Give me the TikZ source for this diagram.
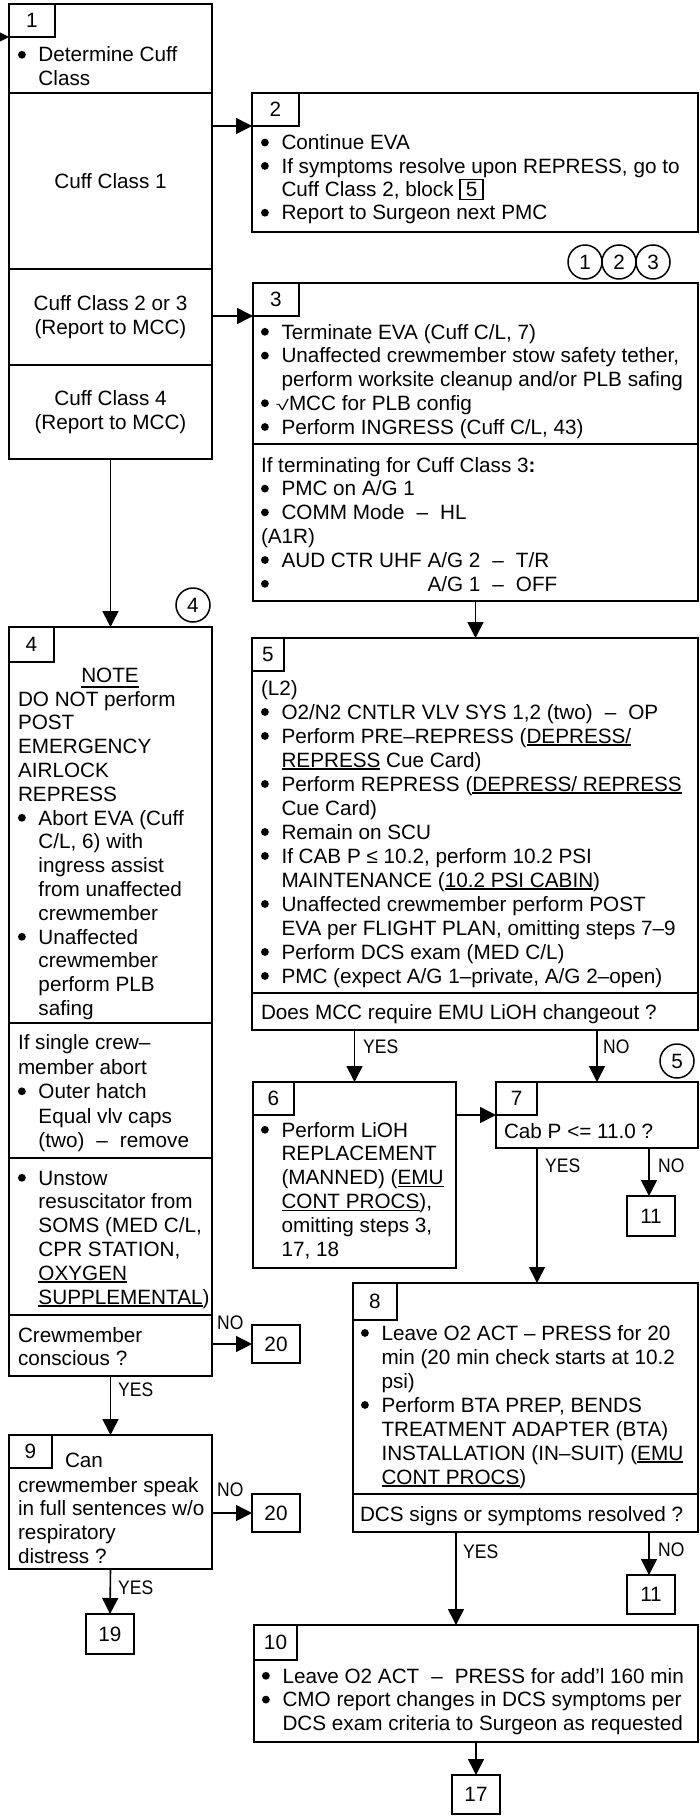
\documentclass[tikz,border=0pt]{standalone}
\usepackage{fontspec}
\setmainfont{Liberation Sans}
\usetikzlibrary{arrows.meta}
\newcommand\bodyfont{\fontsize{20.7}{23.8}\selectfont}
\newcommand\lblfont{\fontsize{17.5}{17.5}\selectfont}
\newcommand\bdot{\tikz[baseline=-7.2pt]\fill[black] (3.9pt,0pt) circle[radius=3.9pt];}
\newcommand\bul{\makebox[20.5pt][l]{\bdot}}
\newcommand\ind{\hspace*{20.5pt}}
\newcommand\dsh{\hspace{12pt}–\hspace{12pt}}
\newcommand\uln[2][-2.5pt]{\leavevmode\setbox0\hbox{#2}\rlap{\rule[#1]{\wd0}{1.4pt}}\box0\relax}
\newcommand\blk[1]{{\setlength\fboxsep{2pt}\setlength\fboxrule{1.6pt}\fbox{\makebox[17pt]{#1}}}}
\newcommand\chk{\makebox[12pt][l]{\bdot}\makebox[16pt][r]{\scalebox{1.7}[1]{\fontsize{14}{14}\selectfont √}}}
\newcommand\lbl[1]{\scalebox{1}[1.12]{#1}}
\newcommand\BX[6][]{\node[box,#1,minimum width={#5-#3},minimum height={#6-#4}] (#2) at (#3,#4)}
\newcommand\TX[4][]{\node[txt,#1] (#2) at (#3,#4-16.66)}
\begin{document}
\begin{tikzpicture}[x=1pt,y=-1pt,
  box/.style={draw,line width=2pt,inner sep=0pt,outer sep=0pt,anchor=north west,font=\bodyfont},
  txt/.style={anchor=north west,inner sep=0pt,outer sep=0pt,align=left,font=\bodyfont},
  lab/.style={anchor=west,inner sep=0pt,font=\lblfont},
  circ/.style={draw,circle,line width=1.5pt,minimum size=34pt,inner sep=0pt,font=\bodyfont},
  arr/.style={line width=1.6pt,-{Triangle[length=16pt,width=16pt]}}]
\useasboundingbox (0,0) rectangle (699,1817);
\fill[white] (0,0) rectangle (699,1817);
% ---------------- left column ----------------
\BX{b1}{9}{4}{212}{93}{};
\BX{t1}{9}{4}{55}{37}{1};
\TX{x1}{18}{62}{\strut\bul Determine Cuff\\\ind Class};
\BX{c1}{9}{93}{212}{269}{Cuff Class 1};
\BX[align=center]{c23}{9}{269}{212}{365}{Cuff Class 2 or 3\\(Report to MCC)};
\BX[align=center]{c4}{9}{365}{212}{459}{Cuff Class 4\\(Report to MCC)};
\coordinate (in1) at (-14,37);
\draw[arr] (in1) -- (t1.south west);
\node[circ] (k4) at (193,605) {4};
\BX{b4}{9}{627}{212}{1023}{};
\BX{t4}{9}{627}{54}{662}{4};
\draw[arr] (c4.south) -- (b4.north);
\node[anchor=base,inner sep=0pt,font=\bodyfont] (note) at (110,682) {\uln[-5.5pt]{NOTE}};
\TX{x4}{18}{706}{\strut DO NOT perform\\POST\\EMERGENCY\\AIRLOCK\\REPRESS\\\bul Abort EVA (Cuff\\\ind C/L, 6) with\\\ind ingress assist\\\ind from unaffected\\\ind crewmember\\\bul Unaffected\\\ind crewmember\\\ind perform PLB\\\ind safing};
\BX{s4b}{9}{1023}{212}{1158}{};
\TX[font=\fontsize{20.7}{24.5}\selectfont]{x4b}{18}{1049}{\strut If single crew–\\member abort\\\bul Outer hatch\\\ind Equal vlv caps\\\ind (two)\dsh remove};
\BX{s4c}{9}{1158}{212}{1315}{};
\TX{x4c}{18}{1185}{\strut\bul Unstow\\\ind resuscitator from\\\ind SOMS (MED C/L,\\\ind CPR STATION,\\\ind\uln{OXYGEN}\\\ind\uln{SUPPLEMENTAL})};
\BX{s4d}{9}{1315}{212}{1376}{};
\TX{x4d}{18}{1342}{\strut Crewmember\\conscious ?};
\BX{n20a}{252}{1325}{300}{1363}{20};
\draw[arr] (s4d.east |- n20a.west) -- (n20a.west);
\node[lab] (l1) at (217,1323) {\lbl{NO}};
\BX{b9}{9}{1435}{212}{1569}{};
\BX{t9}{9}{1435}{52}{1468}{9};
\draw[arr] (s4d.south) -- (b9.north);
\node[lab] (l2) at (118,1390) {\lbl{YES}};
\TX{x9a}{65}{1467}{\strut Can};
\TX{x9}{18}{1492}{\strut crewmember speak\\in full sentences w/o\\respiratory\\distress ?};
\BX{n20b}{252}{1494}{300}{1532}{20};
\draw[arr] (b9.east |- n20b.west) -- (n20b.west);
\node[lab] (l3) at (217,1490) {\lbl{NO}};
\BX{n19}{86}{1614}{134}{1654}{19};
\draw[arr] (b9.south) -- (n19.north);
\node[lab] (l4) at (118,1588) {\lbl{YES}};
% ---------------- right column ----------------
\BX{b2}{252}{93}{698}{232}{};
\BX{t2}{252}{93}{299}{126}{2};
\draw[arr] (c1.east |- t2.south west) -- (t2.south west);
\TX[font=\fontsize{20.7}{23.4}\selectfont]{x2}{261}{150}{\strut\bul Continue EVA\\\bul If symptoms resolve upon REPRESS, go to\\\ind Cuff Class 2, block \blk{5}\\\bul Report to Surgeon next PMC};
\node[circ] (k1) at (585,262) {1};
\node[circ] (k2) at (619,262) {2};
\node[circ] (k3) at (653,262) {3};
\BX{b3}{253}{283}{698}{444}{};
\BX{t3}{253}{283}{299}{316}{3};
\draw[arr] (c23.east |- t3.south west) -- (t3.south west);
\TX{x3}{261}{339}{\strut\bul Terminate EVA (Cuff C/L, 7)\\\bul Unaffected crewmember stow safety tether,\\\ind perform worksite cleanup and/or PLB safing\\\chk MCC for PLB config\\\bul Perform INGRESS (Cuff C/L, 43)};
\BX{s3b}{253}{444}{698}{601}{};
\TX{x3b}{261}{472}{\strut If terminating for Cuff Class 3\textbf{:}\\\bul PMC on A/G 1\\\bul COMM Mode\dsh HL\\(A1R)\\\bul AUD CTR UHF A/G 2\dsh T/R\\\bul\phantom{AUD CTR UHF }A/G 1\dsh OFF};
\BX{b5}{252}{638}{698}{993}{};
\BX{t5}{252}{638}{284}{671}{5};
\draw[arr] (s3b.south) -- (s3b.south |- b5.north);
\TX[font=\fontsize{20.7}{24}\selectfont]{x5}{261}{695}{\strut (L2)\\\bul O2/N2 CNTLR VLV SYS 1,2 (two)\dsh OP\\\bul Perform PRE–REPRESS (\uln{DEPRESS/}\\\ind\uln{REPRESS} Cue Card)\\\bul Perform REPRESS (\uln{DEPRESS/ REPRESS}\\\ind Cue Card)\\\bul Remain on SCU\\\bul If CAB P ≤ 10.2, perform 10.2 PSI\\\ind MAINTENANCE (\uln{10.2 PSI CABIN})\\\bul Unaffected crewmember perform POST\\\ind EVA per FLIGHT PLAN, omitting steps 7–9\\\bul Perform DCS exam (MED C/L)\\\bul PMC (expect A/G 1–private, A/G 2–open)};
\BX{s5b}{252}{993}{698}{1030}{};
\TX{x5b}{261}{1019}{\strut Does MCC require EMU LiOH changeout ?};
\BX{b6}{253}{1082}{456}{1268}{};
\BX{t6}{253}{1082}{294}{1115}{6};
\draw[arr] (b6.north |- s5b.south) -- (b6.north);
\node[lab] (l5) at (363,1047) {\lbl{YES}};
\TX{x6}{261}{1137}{\strut\bul Perform LiOH\\\ind REPLACEMENT\\\ind (MANNED) (\uln{EMU}\\\ind\uln{CONT PROCS}),\\\ind omitting steps 3,\\\ind 17, 18};
\BX{b7}{496}{1082}{698}{1148}{};
\BX{t7}{496}{1082}{537}{1115}{7};
\draw[arr] (b7.north |- s5b.south) -- (b7.north);
\node[lab] (l6) at (603,1047) {\lbl{NO}};
\node[circ] (k5) at (677,1061) {5};
\TX{x7}{504}{1138}{\strut Cab P <= 11.0 ?};
\draw[arr] (b6.east |- t7.south west) -- (t7.south west);
\BX{n11a}{627}{1196}{675}{1236}{11};
\coordinate (na) at ([xshift=-2pt]n11a.north);
\draw[arr] (na |- b7.south) -- (na);
\node[lab] (l7) at (658,1166) {\lbl{NO}};
\BX{b8}{353}{1283}{698}{1494}{};
\BX{t8}{353}{1283}{397}{1320}{8};
\draw[arr] (t7.south east |- b7.south) -- (t7.south east |- b8.north);
\node[lab] (l8) at (545,1166) {\lbl{YES}};
\TX[font=\fontsize{20.7}{24}\selectfont]{x8}{361}{1340}{\strut\bul Leave O2 ACT – PRESS for 20\\\ind min (20 min check starts at 10.2\\\ind psi)\\\bul Perform BTA PREP, BENDS\\\ind TREATMENT ADAPTER (BTA)\\\ind INSTALLATION (IN–SUIT) (\uln{EMU}\\\ind\uln{CONT PROCS})};
\BX{s8b}{353}{1494}{698}{1532}{};
\TX{x8b}{360}{1521}{\strut DCS signs or symptoms resolved ?};
\BX{n11b}{627}{1575}{675}{1614}{11};
\coordinate (nb) at ([xshift=-2pt]n11b.north);
\draw[arr] (nb |- s8b.south) -- (nb);
\node[lab] (l10) at (658,1550) {\lbl{NO}};
\BX{b10}{254}{1625}{698}{1742}{};
\BX{t10}{254}{1625}{297}{1660}{10};
\coordinate (y8) at ([xshift=103pt]s8b.south west);
\draw[arr] (y8) -- (y8 |- b10.north);
\node[lab] (l9) at (463,1552) {\lbl{YES}};
\TX{x10}{262}{1683}{\strut\bul Leave O2 ACT\dsh PRESS for add’l 160 min\\\bul CMO report changes in DCS symptoms per\\\ind DCS exam criteria to Surgeon as requested};
\BX{n17}{452}{1775}{500}{1814}{17};
\draw[arr] (b10.south) -- (n17.north);
\end{tikzpicture}
\end{document}
